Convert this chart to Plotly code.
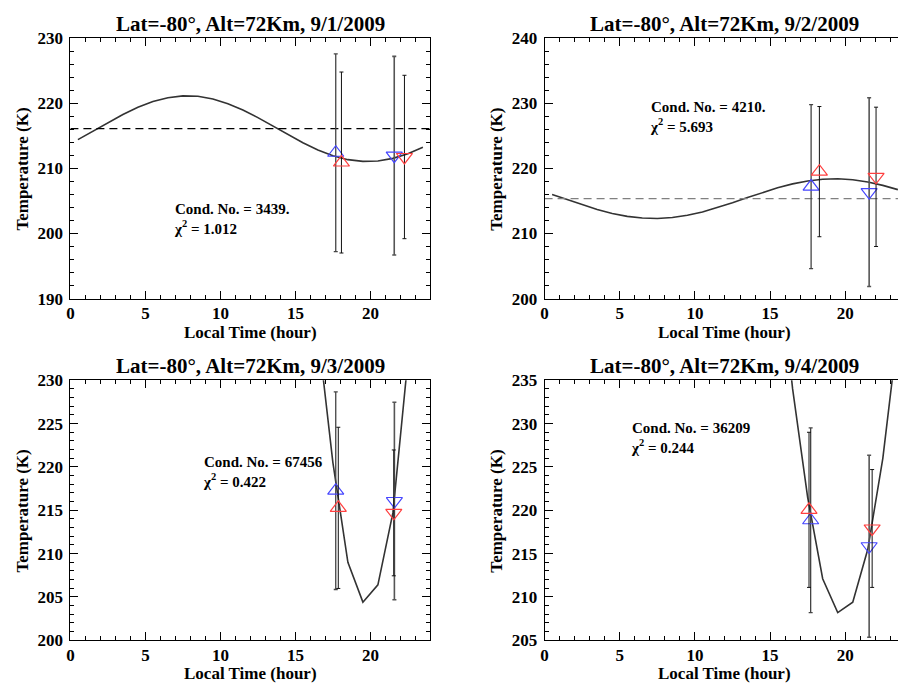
import plotly.graph_objects as go

W, H = 898, 696

# ---------------- data ----------------
hours_full = [0.5, 1.5, 2.5, 3.5, 4.5, 5.5, 6.5, 7.5, 8.5, 9.5, 10.5, 11.5,
              12.5, 13.5, 14.5, 15.5, 16.5, 17.5, 18.5, 19.5, 20.5, 21.5, 22.5, 23.5]
fit_0901 = [214.41, 215.70, 217.02, 218.27, 219.38, 220.26, 220.86, 221.13,
            221.07, 220.66, 219.94, 218.96, 217.79, 216.50, 215.18, 213.93,
            212.82, 211.94, 211.34, 211.07, 211.13, 211.54, 212.26, 213.24]
mean_0901 = 216.1
fit_0902 = [215.98, 215.19, 214.41, 213.69, 213.08, 212.63, 212.37, 212.30,
            212.45, 212.79, 213.31, 213.97, 214.72, 215.51, 216.29, 217.01,
            217.62, 218.07, 218.33, 218.40, 218.25, 217.91, 217.39, 216.73]
mean_0902 = 215.35
hours_late = [15.5, 16.5, 17.5, 18.5, 19.5, 20.5, 21.5, 22.5, 23.5]
fit_0903 = [255.0, 235.6, 220.5, 209.0, 204.4, 206.4, 214.7, 229.6, 250.0]
fit_0904 = [250.0, 234.0, 221.5, 212.1, 208.2, 209.4, 215.5, 226.0, 240.5]

# observation order: blue up, red up, blue down, red down
obs_symbols = ["triangle-up-open", "triangle-up-open", "triangle-down-open", "triangle-down-open"]
obs_colors = ["#4646ff", "#ff4040", "#4646ff", "#ff4040"]
err_colors = ["#444444", "#111111", "#555555", "#111111"]
err_widths = [1.3, 1.0, 1.6, 1.0]

obs_time_0901 = [17.69, 18.07, 21.59, 22.27]
obs_temp_0901 = [212.4, 210.9, 211.95, 211.75]
obs_err_0901 = [15.2, 13.9, 15.25, 12.55]

obs_time_0902 = [17.73, 18.28, 21.59, 22.05]
obs_temp_0902 = [217.2, 219.5, 216.35, 218.7]
obs_err_0902 = [12.6, 10.0, 14.5, 10.7]

obs_time_0903 = [17.69, 17.86, 21.60, 21.56]
obs_temp_0903 = [217.26, 215.28, 216.07, 214.7]
obs_err_0903 = [11.4, 9.3, 11.4, 7.26]

obs_time_0904 = [17.70, 17.59, 21.59, 21.79]
obs_temp_0904 = [218.85, 220.05, 215.85, 217.9]
obs_err_0904 = [10.65, 8.95, 10.5, 6.8]

titles = ["Lat=-80°, Alt=72Km, 9/1/2009", "Lat=-80°, Alt=72Km, 9/2/2009",
          "Lat=-80°, Alt=72Km, 9/3/2009", "Lat=-80°, Alt=72Km, 9/4/2009"]
cond_text = ["Cond. No. = 3439.", "Cond. No. = 4210.", "Cond. No. = 67456", "Cond. No. = 36209"]
chi_text = ["χ<sup>2</sup> = 1.012", "χ<sup>2</sup> = 5.693", "χ<sup>2</sup> = 0.422", "χ<sup>2</sup> = 0.244"]
x_label = "Local Time (hour)"
y_label = "Temperature (K)"
y_ranges = [[190, 230], [200, 240], [200, 230], [205, 235]]
y_dticks = [10, 10, 5, 5]
y_minor = [2, 2, 1, 1]

# ---------------- layout geometry (pixels) ----------------
FONT = "'Liberation Serif', 'Times New Roman', Times, serif"
panels = [
    dict(x0=66.7, x1=428.3, y0=30.0, y1=297.7, xr=[0, 24], right=False),
    dict(x0=543.0, x1=898.0, y0=30.0, y1=297.7, xr=[0, 23.51], right=True),
    dict(x0=66.7, x1=428.3, y0=381.7, y1=649.0, xr=[0, 24], right=False),
    dict(x0=543.0, x1=898.0, y0=381.7, y1=649.0, xr=[0, 23.51], right=True),
]

def px(x):
    return x / W

def py(y):
    return 1 - y / H

fig = go.Figure()

fits = [(hours_full, fit_0901, mean_0901, "black"),
        (hours_full, fit_0902, mean_0902, "#808080"),
        (hours_late, fit_0903, None, None),
        (hours_late, fit_0904, None, None)]
obs = [(obs_time_0901, obs_temp_0901, obs_err_0901),
       (obs_time_0902, obs_temp_0902, obs_err_0902),
       (obs_time_0903, obs_temp_0903, obs_err_0903),
       (obs_time_0904, obs_temp_0904, obs_err_0904)]

annotations = []
for i, p in enumerate(panels):
    n = "" if i == 0 else str(i + 1)
    xa, ya = "x" + n, "y" + n
    hrs, fit, mean, dcol = fits[i]
    fig.add_trace(go.Scatter(x=hrs, y=fit, mode="lines", xaxis=xa, yaxis=ya,
                             line=dict(color="#333333", width=1.6), showlegend=False))
    if mean is not None:
        fig.add_trace(go.Scatter(x=[0, 24], y=[mean, mean],
                                 mode="lines", xaxis=xa, yaxis=ya,
                                 line=dict(color=dcol, width=1.4, dash="8px,5px"),
                                 showlegend=False))
    t, v, e = obs[i]
    for k in range(4):
        fig.add_trace(go.Scatter(
            x=[t[k]], y=[v[k]], mode="markers", xaxis=xa, yaxis=ya, showlegend=False,
            marker=dict(symbol=obs_symbols[k], size=14, color=obs_colors[k],
                        line=dict(color=obs_colors[k], width=1.2)),
            error_y=dict(type="data", array=[e[k]], visible=True, color=err_colors[k],
                         thickness=err_widths[k], width=2)))

    axkey = "xaxis" + n
    aykey = "yaxis" + n
    fig.update_layout({
        axkey: dict(domain=[px(p["x0"]), px(p["x1"])], range=p["xr"], anchor=ya,
                    showgrid=False, zeroline=False, showline=True, linecolor="black",
                    linewidth=1, mirror="ticks", ticks="inside", ticklen=8,
                    tickcolor="black", tickvals=[0, 5, 10, 15, 20],
                    tickfont=dict(family=FONT, size=17, color="black", weight="bold"),
                    ticklabelstandoff=-1,
                    minor=dict(dtick=1, ticks="inside", ticklen=4, tickcolor="black")),
        aykey: dict(domain=[py(p["y1"]), py(p["y0"])], range=y_ranges[i], anchor=xa,
                    showgrid=False, zeroline=False, showline=True, linecolor="black",
                    linewidth=1, mirror=False if p["right"] else "ticks",
                    ticks="inside", ticklen=8, tickcolor="black", dtick=y_dticks[i],
                    tick0=0,
                    tickfont=dict(family=FONT, size=17, color="black", weight="bold"),
                    ticklabelstandoff=3,
                    minor=dict(dtick=y_minor[i], ticks="inside", ticklen=4,
                               tickcolor="black")),
    })

    full_right = p["x0"] + (p["x1"] - p["x0"]) * 24 / p["xr"][1]
    cx = (p["x0"] + full_right) / 2
    annotations.append(dict(text=titles[i], x=px(cx), y=py(p["y0"] - 15), xref="paper",
                            yref="paper", showarrow=False, xanchor="center", yanchor="middle",
                            font=dict(family=FONT, size=21, color="black", weight="bold")))
    annotations.append(dict(text=x_label, x=px(cx), y=py(p["y1"] + 34.6), xref="paper",
                            yref="paper", showarrow=False, xanchor="center", yanchor="middle",
                            font=dict(family=FONT, size=17, color="black", weight="bold")))
    annotations.append(dict(text=y_label, x=px(p["x0"] - 48.4), y=py((p["y0"] + p["y1"]) / 2 + 1),
                            xref="paper", yref="paper", showarrow=False, textangle=-90,
                            xanchor="center", yanchor="middle",
                            font=dict(family=FONT, size=17, color="black", weight="bold")))

# stats text positions (pixels of left edge, first-line center)
stat_pos = [(169.0, 209.3), (646.7, 104.3), (198.3, 469.0), (627.3, 434.0)]
for i, (sx, sy) in enumerate(stat_pos):
    annotations.append(dict(text=cond_text[i] + "<br>" + chi_text[i], x=px(sx),
                            y=py(sy + 6.7), xref="paper", yref="paper", align="left",
                            showarrow=False, xanchor="left", yanchor="middle",
                            font=dict(family=FONT, size=15, color="black", weight="bold")))

fig.update_layout(width=W, height=H, margin=dict(l=0, r=0, t=0, b=0, pad=0),
                  paper_bgcolor="white", plot_bgcolor="white", annotations=annotations,
                  font=dict(family=FONT, color="black"))

fig.write_html("out.html")
